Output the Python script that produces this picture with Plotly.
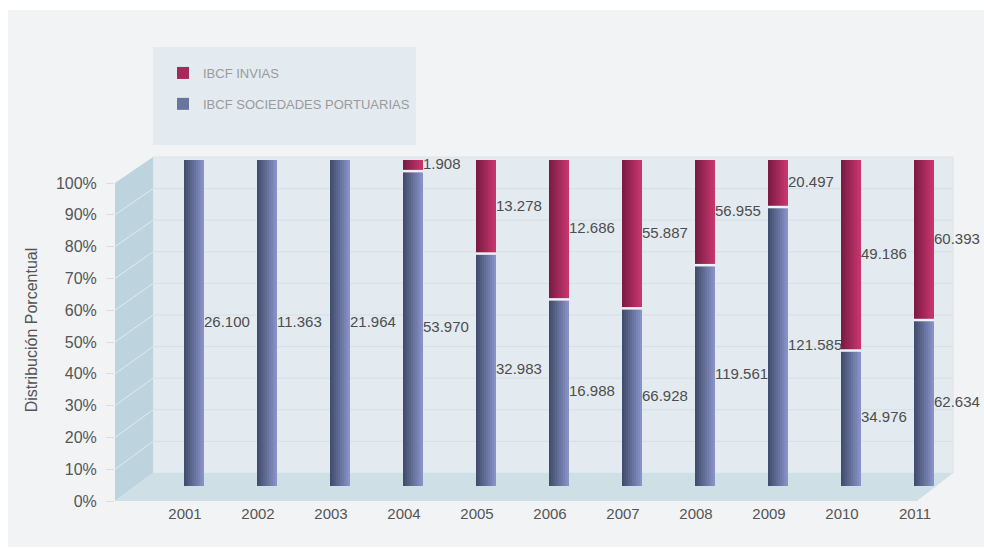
import plotly.graph_objects as go

# ---- data -------------------------------------------------------------
years = ["2001", "2002", "2003", "2004", "2005", "2006",
         "2007", "2008", "2009", "2010", "2011"]
ibcf_portuarias = [26100, 11363, 21964, 53970, 32983, 16988,
                   66928, 119561, 121585, 34976, 62634]
ibcf_invias = [0, 0, 0, 1908, 13278, 12686,
               55887, 56955, 20497, 49186, 60393]
pct_ticks = [0, 10, 20, 30, 40, 50, 60, 70, 80, 90, 100]
pct_labels = [f"{v}%" for v in pct_ticks]

# ---- derived shares ---------------------------------------------------
totals = [a + b for a, b in zip(ibcf_portuarias, ibcf_invias)]
share_port = [a / t * 100 for a, t in zip(ibcf_portuarias, totals)]
share_invias = [b / t * 100 for b, t in zip(ibcf_invias, totals)]
xpos = list(range(len(years)))


def fmt(v):
    return f"{v:,}".replace(",", ".")


# ---- page geometry (pixels) --------------------------------------------
W, H = 984, 548
L, R, T, B = 115, 955, 157, 503


def px(x):
    return (x - L) / (R - L)


def py(y):
    return (B - y) / (B - T)


FONT = "Liberation Sans, Arial, sans-serif"
BAR_W = 0.274
N_STRIPS = 10


def blend(c1, c2, t):
    a = [int(c1[i:i + 2], 16) for i in (1, 3, 5)]
    b = [int(c2[i:i + 2], 16) for i in (1, 3, 5)]
    return "#" + "".join(f"{round(a[i] + (b[i] - a[i]) * t):02x}" for i in range(3))


BLUE_L, BLUE_R = "#3e4a68", "#8c96cc"
RED_L, RED_R = "#781a43", "#ca386e"

fig = go.Figure()

# bars drawn as thin vertical strips to give the cylinder-like shading
for k in range(N_STRIPS):
    t = (k + 0.5) / N_STRIPS
    off = -BAR_W / 2 + t * BAR_W
    fig.add_trace(go.Bar(
        x=[x + off for x in xpos], y=share_port, base=0,
        width=BAR_W / N_STRIPS * 1.02,
        marker=dict(color=blend(BLUE_L, BLUE_R, t), line=dict(width=0)),
        name="IBCF SOCIEDADES PORTUARIAS", legendgroup="port",
        showlegend=(k == N_STRIPS // 2), legendrank=2,
        hoverinfo="skip",
    ))
    fig.add_trace(go.Bar(
        x=[x + off for x in xpos], y=share_invias, base=share_port,
        width=BAR_W / N_STRIPS * 1.02,
        marker=dict(color=blend(RED_L, RED_R, t), line=dict(width=0)),
        name="IBCF INVIAS", legendgroup="invias",
        showlegend=(k == N_STRIPS // 2), legendrank=1,
        hoverinfo="skip",
    ))

# light seam between the two stacked segments
seam_x, seam_y = [], []
for x, p, r in zip(xpos, share_port, share_invias):
    if r > 0:
        seam_x += [x - BAR_W / 2, x + BAR_W / 2, None]
        seam_y += [p, p, None]
fig.add_trace(go.Scatter(x=seam_x, y=seam_y, mode="lines",
                         line=dict(color="#eef2f5", width=2.5),
                         showlegend=False, hoverinfo="skip"))

# value labels to the right of each segment
lab_x, lab_y, lab_t = [], [], []
for x, p, r, a, b in zip(xpos, share_port, share_invias, ibcf_portuarias, ibcf_invias):
    lab_x.append(x + BAR_W / 2)
    lab_y.append(p / 2)
    lab_t.append(fmt(a))
    if b > 0:
        lab_x.append(x + BAR_W / 2)
        lab_y.append(p + r / 2)
        lab_t.append(fmt(b))
fig.add_trace(go.Scatter(x=lab_x, y=lab_y, text=lab_t, mode="text",
                         textposition="middle right",
                         textfont=dict(family=FONT, size=15, color="#4d4d4d"),
                         showlegend=False, hoverinfo="skip", cliponaxis=False))

# ---- 3D box decoration --------------------------------------------------
shapes = []
# outer panel
shapes.append(dict(type="rect", xref="paper", yref="paper",
                   x0=px(8), x1=px(984), y0=py(547), y1=py(10),
                   fillcolor="#f1f3f5", line=dict(width=0), layer="below"))
# legend box
shapes.append(dict(type="rect", xref="paper", yref="paper",
                   x0=px(153), x1=px(416), y0=py(145), y1=py(47),
                   fillcolor="#e3ebf0", line=dict(width=0), layer="below"))
# back wall
shapes.append(dict(type="rect", xref="paper", yref="paper",
                   x0=px(153), x1=px(953), y0=py(473), y1=py(157),
                   fillcolor="#e3ebf1", line=dict(color="#dde4ea", width=1), layer="below"))
# left side wall
shapes.append(dict(type="path", xref="paper", yref="paper",
                   path=f"M {px(115)},{py(183)} L {px(153)},{py(157)} L {px(153)},{py(473)} "
                        f"L {px(115)},{py(501)} Z",
                   fillcolor="#bdd3de", line=dict(width=0), layer="below"))
# floor
shapes.append(dict(type="path", xref="paper", yref="paper",
                   path=f"M {px(115)},{py(501)} L {px(153)},{py(473)} L {px(953)},{py(473)} "
                        f"L {px(917)},{py(501)} Z",
                   fillcolor="#cfdfe6", line=dict(width=0), layer="below"))
# grid lines on the back and side walls
for v in pct_ticks[1:-1]:
    yb = 473 - v * 3.16
    yf = 501 - v * 3.18
    shapes.append(dict(type="line", xref="paper", yref="paper",
                       x0=px(153), x1=px(953), y0=py(yb), y1=py(yb),
                       line=dict(color="#d6dfe5", width=1), layer="below"))
    shapes.append(dict(type="line", xref="paper", yref="paper",
                       x0=px(115), x1=px(153), y0=py(yf), y1=py(yb),
                       line=dict(color="#e0ebf1", width=1), layer="below"))

fig.update_layout(
    width=W, height=H,
    margin=dict(l=L, r=W - R, t=T, b=H - B, pad=0),
    paper_bgcolor="#ffffff",
    plot_bgcolor="rgba(0,0,0,0)",
    barmode="overlay",
    bargap=0,
    shapes=shapes,
    font=dict(family=FONT, color="#555555"),
    showlegend=True,
    legend=dict(x=px(163), y=py(58), xref="paper", yref="paper",
                xanchor="left", yanchor="top",
                bgcolor="rgba(0,0,0,0)", traceorder="grouped",
                font=dict(family=FONT, size=13, color="#9a9a9a"),
                itemwidth=30, tracegroupgap=11),
    xaxis=dict(range=[(L - 194) / 73, (R - 194) / 73],
               tickmode="array", tickvals=xpos, ticktext=years,
               ticklabelshift=-9, showgrid=False, zeroline=False,
               showline=False, ticks="",
               tickfont=dict(family=FONT, size=15, color="#555555")),
    yaxis=dict(range=[-17 / 3.26, 100 + 3 / 3.26], visible=False,
               showgrid=False, zeroline=False),
    yaxis2=dict(range=[-2 / 3.18, 100 + 26 / 3.18], overlaying="y",
                side="left", anchor="x", tickmode="array",
                tickvals=pct_ticks, ticktext=pct_labels,
                ticks="outside", ticklen=8, tickcolor="#d6dde3",
                ticklabelstandoff=6, showgrid=False, zeroline=False,
                showline=False,
                tickfont=dict(family=FONT, size=16, color="#555555"),
                title=dict(text="Distribución Porcentual", standoff=14,
                           font=dict(family=FONT, size=16, color="#555555"))),
)

# dummy trace so the secondary percent axis is rendered
fig.add_trace(go.Scatter(x=[None], y=[None], yaxis="y2", showlegend=False,
                         hoverinfo="skip"))

fig.write_html("out.html")
